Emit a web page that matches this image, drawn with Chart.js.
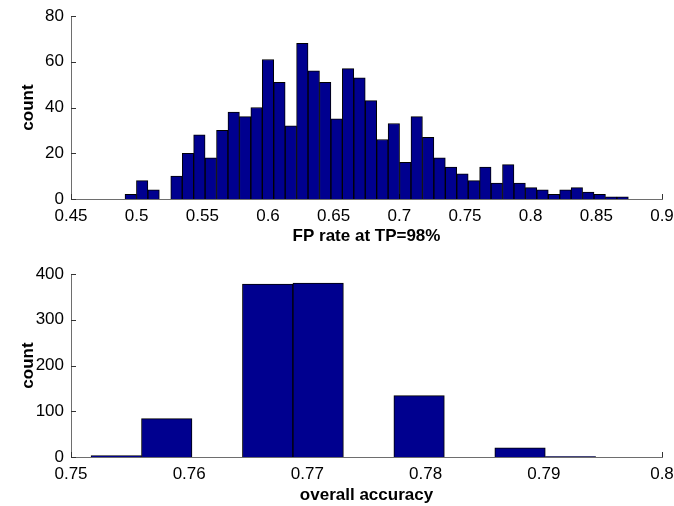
<!DOCTYPE html>
<html>
<head>
<meta charset="utf-8">
<script src="https://cdn.jsdelivr.net/npm/chart.js@4/dist/chart.umd.min.js"></script>
<style>
  html, body { margin: 0; padding: 0; background: #fff; }
  #wrap { position: relative; width: 674px; height: 506px; }
  .panel { position: absolute; left: 0; width: 674px; height: 253px; }
</style>
</head>
<body>
<div id="wrap">
  <div class="panel" style="top:0"><canvas id="fpChart"></canvas></div>
  <div class="panel" style="top:253px"><canvas id="accChart"></canvas></div>
</div>
<script>
// Top histogram: FP rate at TP=98% (bin centres and counts)
const fpBins = [
  0.49548, 0.50419, 0.51290, 0.52161, 0.53032, 0.53903, 0.54774, 0.55645, 0.56516, 0.57387,
  0.58258, 0.59129, 0.60000, 0.60871, 0.61742, 0.62613, 0.63484, 0.64355, 0.65226, 0.66097,
  0.66968, 0.67839, 0.68710, 0.69581, 0.70452, 0.71323, 0.72194, 0.73065, 0.73936, 0.74807,
  0.75678, 0.76549, 0.77420, 0.78291, 0.79162, 0.80033, 0.80904, 0.81775, 0.82646, 0.83517,
  0.84388, 0.85259, 0.86130, 0.87001
];
const fpCounts = [
  2, 8, 4, 0, 10, 20, 28, 18, 30, 38,
  36, 40, 61, 51, 32, 68, 56, 51, 35, 57,
  53, 43, 26, 33, 16, 36, 27, 18, 14, 11,
  8, 14, 7, 15, 7, 5, 4, 2, 4, 5,
  3, 2, 1, 1
];
const fpXTicks = [0.45, 0.5, 0.55, 0.6, 0.65, 0.7, 0.75, 0.8, 0.85, 0.9];
const fpYTicks = [0, 20, 40, 60, 80];

// Bottom histogram: overall accuracy
const accBins = [0.75383, 0.75810, 0.76237, 0.76664, 0.77091, 0.77518, 0.77945, 0.78372, 0.78799, 0.79226];
const accCounts = [3, 84, 0, 378, 380, 0, 134, 0, 20, 1];
const accXTicks = [0.75, 0.76, 0.77, 0.78, 0.79, 0.8];
const accYTicks = [0, 100, 200, 300, 400];

const BAR_FILL = 'rgb(0,0,143)';
const AXIS_COLOR = '#6e6e6e';
const FONT = "'Liberation Sans', Arial, Helvetica, sans-serif";

// MATLAB style ticks pointing into the plot
const inwardTicks = {
  id: 'inwardTicks',
  beforeDatasetsDraw(chart) {
    const { ctx, chartArea, scales } = chart;
    const len = 5;
    ctx.save();
    ctx.strokeStyle = '#333';
    ctx.lineWidth = 1;
    ctx.beginPath();
    scales.x.ticks.forEach(t => {
      const px = Math.round(scales.x.getPixelForValue(t.value)) + 0.5;
      ctx.moveTo(px, chartArea.bottom);
      ctx.lineTo(px, chartArea.bottom - len);
    });
    scales.y.ticks.forEach(t => {
      const py = Math.round(scales.y.getPixelForValue(t.value)) + 0.5;
      ctx.moveTo(chartArea.left, py);
      ctx.lineTo(chartArea.left + len, py);
    });
    ctx.stroke();
    ctx.restore();
  }
};

function makeHist(canvasId, bins, counts, xTicks, yTicks, xTitle, opts) {
  const points = bins.map((b, i) => ({ x: b, y: counts[i] }));
  return new Chart(document.getElementById(canvasId), {
    type: 'bar',
    data: {
      datasets: [{
        data: points,
        backgroundColor: BAR_FILL,
        borderColor: '#000',
        borderWidth: 1,
        barPercentage: 1,
        categoryPercentage: 1
      }]
    },
    options: {
      responsive: true,
      maintainAspectRatio: false,
      animation: false,
      layout: { padding: { top: opts.top, right: 12, left: 0, bottom: 0 } },
      plugins: { legend: { display: false }, tooltip: { enabled: false } },
      scales: {
        x: {
          type: 'linear',
          offset: false,
          min: xTicks[0],
          max: xTicks[xTicks.length - 1],
          afterBuildTicks: s => { s.ticks = xTicks.map(v => ({ value: v })); },
          afterFit: s => { s.height = opts.xHeight; s.paddingLeft = 0; s.paddingRight = 0; },
          grid: { display: false, drawTicks: false, offset: false },
          border: { display: true, color: AXIS_COLOR, width: 1 },
          ticks: {
            padding: 7,
            color: '#000',
            maxRotation: 0,
            autoSkip: false,
            font: { family: FONT, size: 17 },
            callback: v => String(+v.toFixed(3))
          },
          title: {
            display: true,
            text: xTitle,
            color: '#000',
            padding: { top: 0, bottom: opts.titlePad },
            font: { family: FONT, size: 17, weight: 'bold' }
          }
        },
        y: {
          min: yTicks[0],
          max: yTicks[yTicks.length - 1],
          afterBuildTicks: s => { s.ticks = yTicks.map(v => ({ value: v })); },
          afterFit: s => { s.width = 71; s.paddingTop = 0; s.paddingBottom = 0; },
          grid: { display: false, drawTicks: false },
          border: { display: true, color: AXIS_COLOR, width: 1 },
          ticks: {
            padding: 7,
            color: '#000',
            font: { family: FONT, size: 17 }
          },
          title: {
            display: true,
            text: 'count',
            color: '#000',
            padding: { top: 18, bottom: 0 },
            font: { family: FONT, size: 17, weight: 'bold' }
          }
        }
      }
    },
    plugins: [inwardTicks]
  });
}

makeHist('fpChart', fpBins, fpCounts, fpXTicks, fpYTicks, 'FP rate at TP=98%',
  { top: 16, xHeight: 54, titlePad: 6 });
makeHist('accChart', accBins, accCounts, accXTicks, accYTicks, 'overall accuracy',
  { top: 21, xHeight: 49, titlePad: 0 });
</script>
</body>
</html>
